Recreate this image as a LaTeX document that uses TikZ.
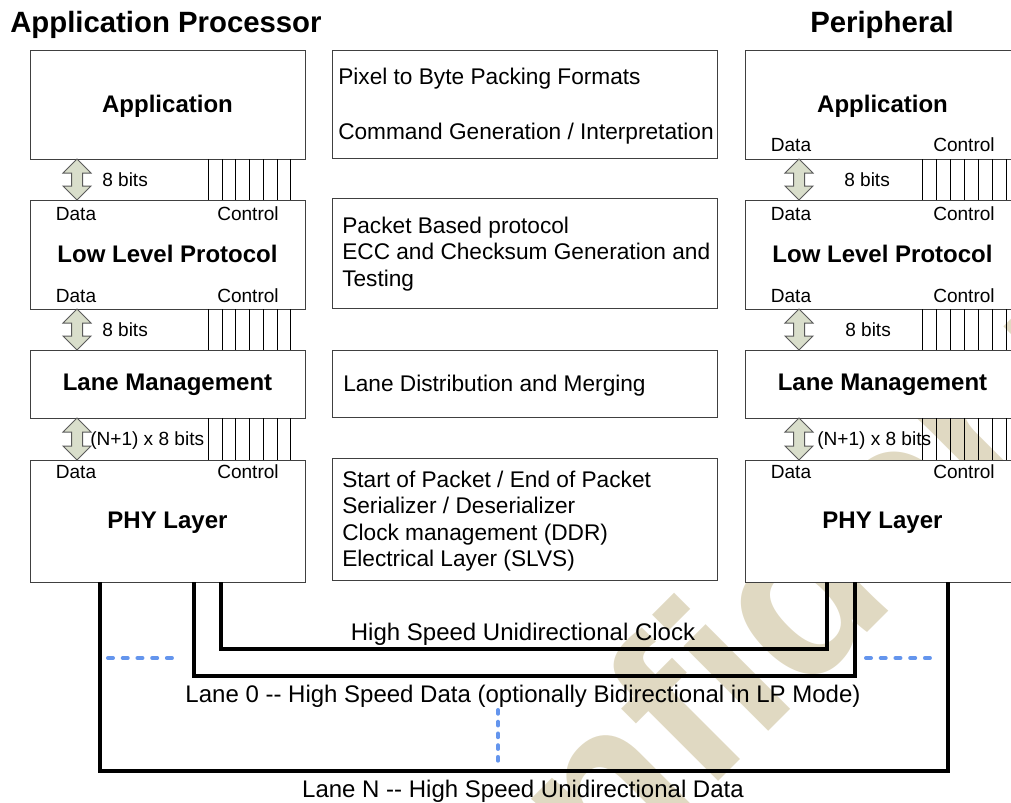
\documentclass[tikz,border=0pt]{standalone}
\usepackage{fontspec}
\setmainfont{Liberation Sans}
\definecolor{boxgray}{RGB}{64,64,64}
\definecolor{arrfill}{RGB}{217,222,203}
\definecolor{arrline}{RGB}{90,90,90}
\definecolor{dotblue}{RGB}{100,149,237}
\definecolor{wmtan}{RGB}{224,217,194}
\newcommand{\udarr}[3]{%
  \filldraw[arrstyle] (#1,#2) -- ++(14,14) -- ++(-8.5,0) -- (#1+5.5,#3-14) -- ++(8.5,0)
    -- (#1,#3) -- ++(-14,-14) -- ++(8.5,0) -- (#1-5.5,#2+14) -- ++(-8.5,0) -- cycle;}
\begin{document}
\begin{tikzpicture}[x=0.75pt,y=-0.75pt,
  box/.style={draw=boxgray, line width=0.75pt, inner sep=0pt, outer sep=0pt, anchor=north west},
  wbox/.style={box, fill=white},
  sz/.style 2 args={minimum width=#1*0.75pt, minimum height=#2*0.75pt},
  ctl/.style={line width=0.75pt, draw=black},
  arrstyle/.style={fill=arrfill, draw=arrline, line width=0.75pt, line join=miter},
  lane/.style={line width=3pt, line join=miter, draw=black},
  hdots/.style={draw=dotblue, line width=3pt, line cap=round, dash pattern=on 3.75pt off 7.3pt},
  vdots/.style={draw=dotblue, line width=3pt, line cap=round, dash pattern=on 2.8pt off 6pt},
  ttl/.style={font=\fontsize{22}{26}\selectfont\bfseries, anchor=base west, inner sep=0pt},
  btl/.style={font=\fontsize{18}{22}\selectfont\bfseries, anchor=base, inner sep=0pt},
  mtx/.style={font=\fontsize{17}{20}\selectfont, anchor=base west, inner sep=0pt},
  sml/.style={font=\fontsize{14.3}{17}\selectfont, anchor=base, inner sep=0pt},
  smw/.style={font=\fontsize{14.3}{17}\selectfont, anchor=base west, inner sep=0pt},
  lbl/.style={font=\fontsize{18}{22}\selectfont, anchor=base, inner sep=0pt},
]
\useasboundingbox (0,0) rectangle (1011,803);

% watermark
\begin{scope}
  \clip (0,0) rectangle (1011,803);
  \node[rotate=45, anchor=base west, text=wmtan, inner sep=0pt,
        font=\fontsize{170}{170}\selectfont\bfseries] (wm) at (392,1108) {Confidential};
\end{scope}

% titles
\node[ttl] (tap) at (10,32) {Application Processor};
\node[ttl] (tpe) at (810,32) {Peripheral};

% left column
\node[wbox, sz={275}{109}] (lapp) at (30,50) {};
\node[wbox, sz={275}{109}] (lllp) at (30,200) {};
\node[wbox, sz={275}{68}]  (llm)  at (30,350) {};
\node[wbox, sz={275}{122}] (lphy) at (30,460) {};

% middle column
\node[box, sz={385}{108}] (m1) at (332,50) {};
\node[box, sz={385}{110}] (m2) at (332,198) {};
\node[box, sz={385}{67}]  (m3) at (332,350) {};
\node[box, sz={385}{122}] (m4) at (332,458) {};

% right column
\node[wbox, sz={275}{109}] (rapp) at (745,50) {};
\node[wbox, sz={275}{109}] (rllp) at (745,200) {};
\node[wbox, sz={275}{68}]  (rlm)  at (745,350) {};
\node[wbox, sz={275}{122}] (rphy) at (745,460) {};

% control lines
\foreach \x in {208,222,235,249,263,277,290} {
  \draw[ctl] (\x,0 |- lapp.south) -- (\x,0 |- lllp.north);
  \draw[ctl] (\x,0 |- lllp.south) -- (\x,0 |- llm.north);
  \draw[ctl] (\x,0 |- llm.south) -- (\x,0 |- lphy.north);
}
\foreach \x in {922,936,950,964,978,992,1006,1020} {
  \draw[ctl] (\x,0 |- rapp.south) -- (\x,0 |- rllp.north);
  \draw[ctl] (\x,0 |- rllp.south) -- (\x,0 |- rlm.north);
  \draw[ctl] (\x,0 |- rlm.south) -- (\x,0 |- rphy.north);
}

% data arrows
\udarr{77}{159}{200}
\udarr{77}{309}{350}
\udarr{77}{418}{460}
\udarr{799}{159}{200}
\udarr{799}{309}{350}
\udarr{799}{418}{460}

% box titles
\node[btl] (tapp) at (167.5,112) {Application};
\node[btl] (tllp) at (167.5,262) {Low Level Protocol};
\node[btl] (tlm)  at (167.5,390) {Lane Management};
\node[btl] (tphy) at (167.5,528) {PHY Layer};
\node[btl] (trapp) at (882.5,112) {Application};
\node[btl] (trllp) at (882.5,262) {Low Level Protocol};
\node[btl] (trlm)  at (882.5,390) {Lane Management};
\node[btl] (trphy) at (882.5,528) {PHY Layer};

% data / control labels
\node[sml] (d1) at (76,220) {Data};
\node[sml] (c1) at (248,220) {Control};
\node[sml] (d2) at (76,302) {Data};
\node[sml] (c2) at (248,302) {Control};
\node[sml] (d3) at (76,478) {Data};
\node[sml] (c3) at (248,478) {Control};
\node[sml] (rd0) at (791,151) {Data};
\node[sml] (rc0) at (964,151) {Control};
\node[sml] (rd1) at (791,220) {Data};
\node[sml] (rc1) at (964,220) {Control};
\node[sml] (rd2) at (791,302) {Data};
\node[sml] (rc2) at (964,302) {Control};
\node[sml] (rd3) at (791,478) {Data};
\node[sml] (rc3) at (964,478) {Control};

% width labels
\node[smw] (b1) at (102,186) {8 bits};
\node[smw] (b2) at (102,336) {8 bits};
\node[smw] (b3) at (90,445) {(N+1) x 8 bits};
\node[smw] (rb1) at (844,186) {8 bits};
\node[smw] (rb2) at (845,336) {8 bits};
\node[smw] (rb3) at (817,445) {(N+1) x 8 bits};

% middle texts
\node[mtx] (t11) at (338,84) {Pixel to Byte Packing Formats};
\node[mtx] (t12) at (338,139) {Command Generation / Interpretation};
\node[mtx] (t21) at (342,233) {Packet Based protocol};
\node[mtx] (t22) at (342,259) {ECC and Checksum Generation and};
\node[mtx] (t23) at (342,286) {Testing};
\node[mtx] (t31) at (343,391) {Lane Distribution and Merging};
\node[mtx] (t41) at (342,487) {Start of Packet / End of Packet};
\node[mtx] (t42) at (342,513) {Serializer / Deserializer};
\node[mtx] (t43) at (342,540) {Clock management (DDR)};
\node[mtx] (t44) at (342,566) {Electrical Layer (SLVS)};

% lanes
\coordinate (clkL) at (221,649);
\coordinate (clkR) at (827,649);
\coordinate (l0L) at (194,676);
\coordinate (l0R) at (855,676);
\coordinate (lnL) at (100,771);
\coordinate (lnR) at (948,771);
\draw[lane] (clkL |- lphy.south) -- (clkL) -- (clkR) -- (clkR |- rphy.south);
\draw[lane] (l0L |- lphy.south) -- (l0L) -- (l0R) -- (l0R |- rphy.south);
\draw[lane] (lnL |- lphy.south) -- (lnL) -- (lnR) -- (lnR |- rphy.south);

\node[lbl] (lclk) at (523,640) {High Speed Unidirectional Clock};
\node[lbl] (ll0) at (523,702) {Lane 0 {-}{-} High Speed Data (optionally Bidirectional in LP Mode)};
\node[lbl] (lln) at (523,797) {Lane N {-}{-} High Speed Unidirectional Data};

% dotted continuation marks
\coordinate (dl1) at (108,658);
\coordinate (dl2) at (173,658);
\coordinate (dr1) at (866,658);
\coordinate (dr2) at (931,658);
\coordinate (dv1) at (498,710);
\coordinate (dv2) at (498,761);
\draw[hdots] (dl1) -- (dl2);
\draw[hdots] (dr1) -- (dr2);
\draw[vdots] (dv1) -- (dv2);
\end{tikzpicture}
\end{document}
